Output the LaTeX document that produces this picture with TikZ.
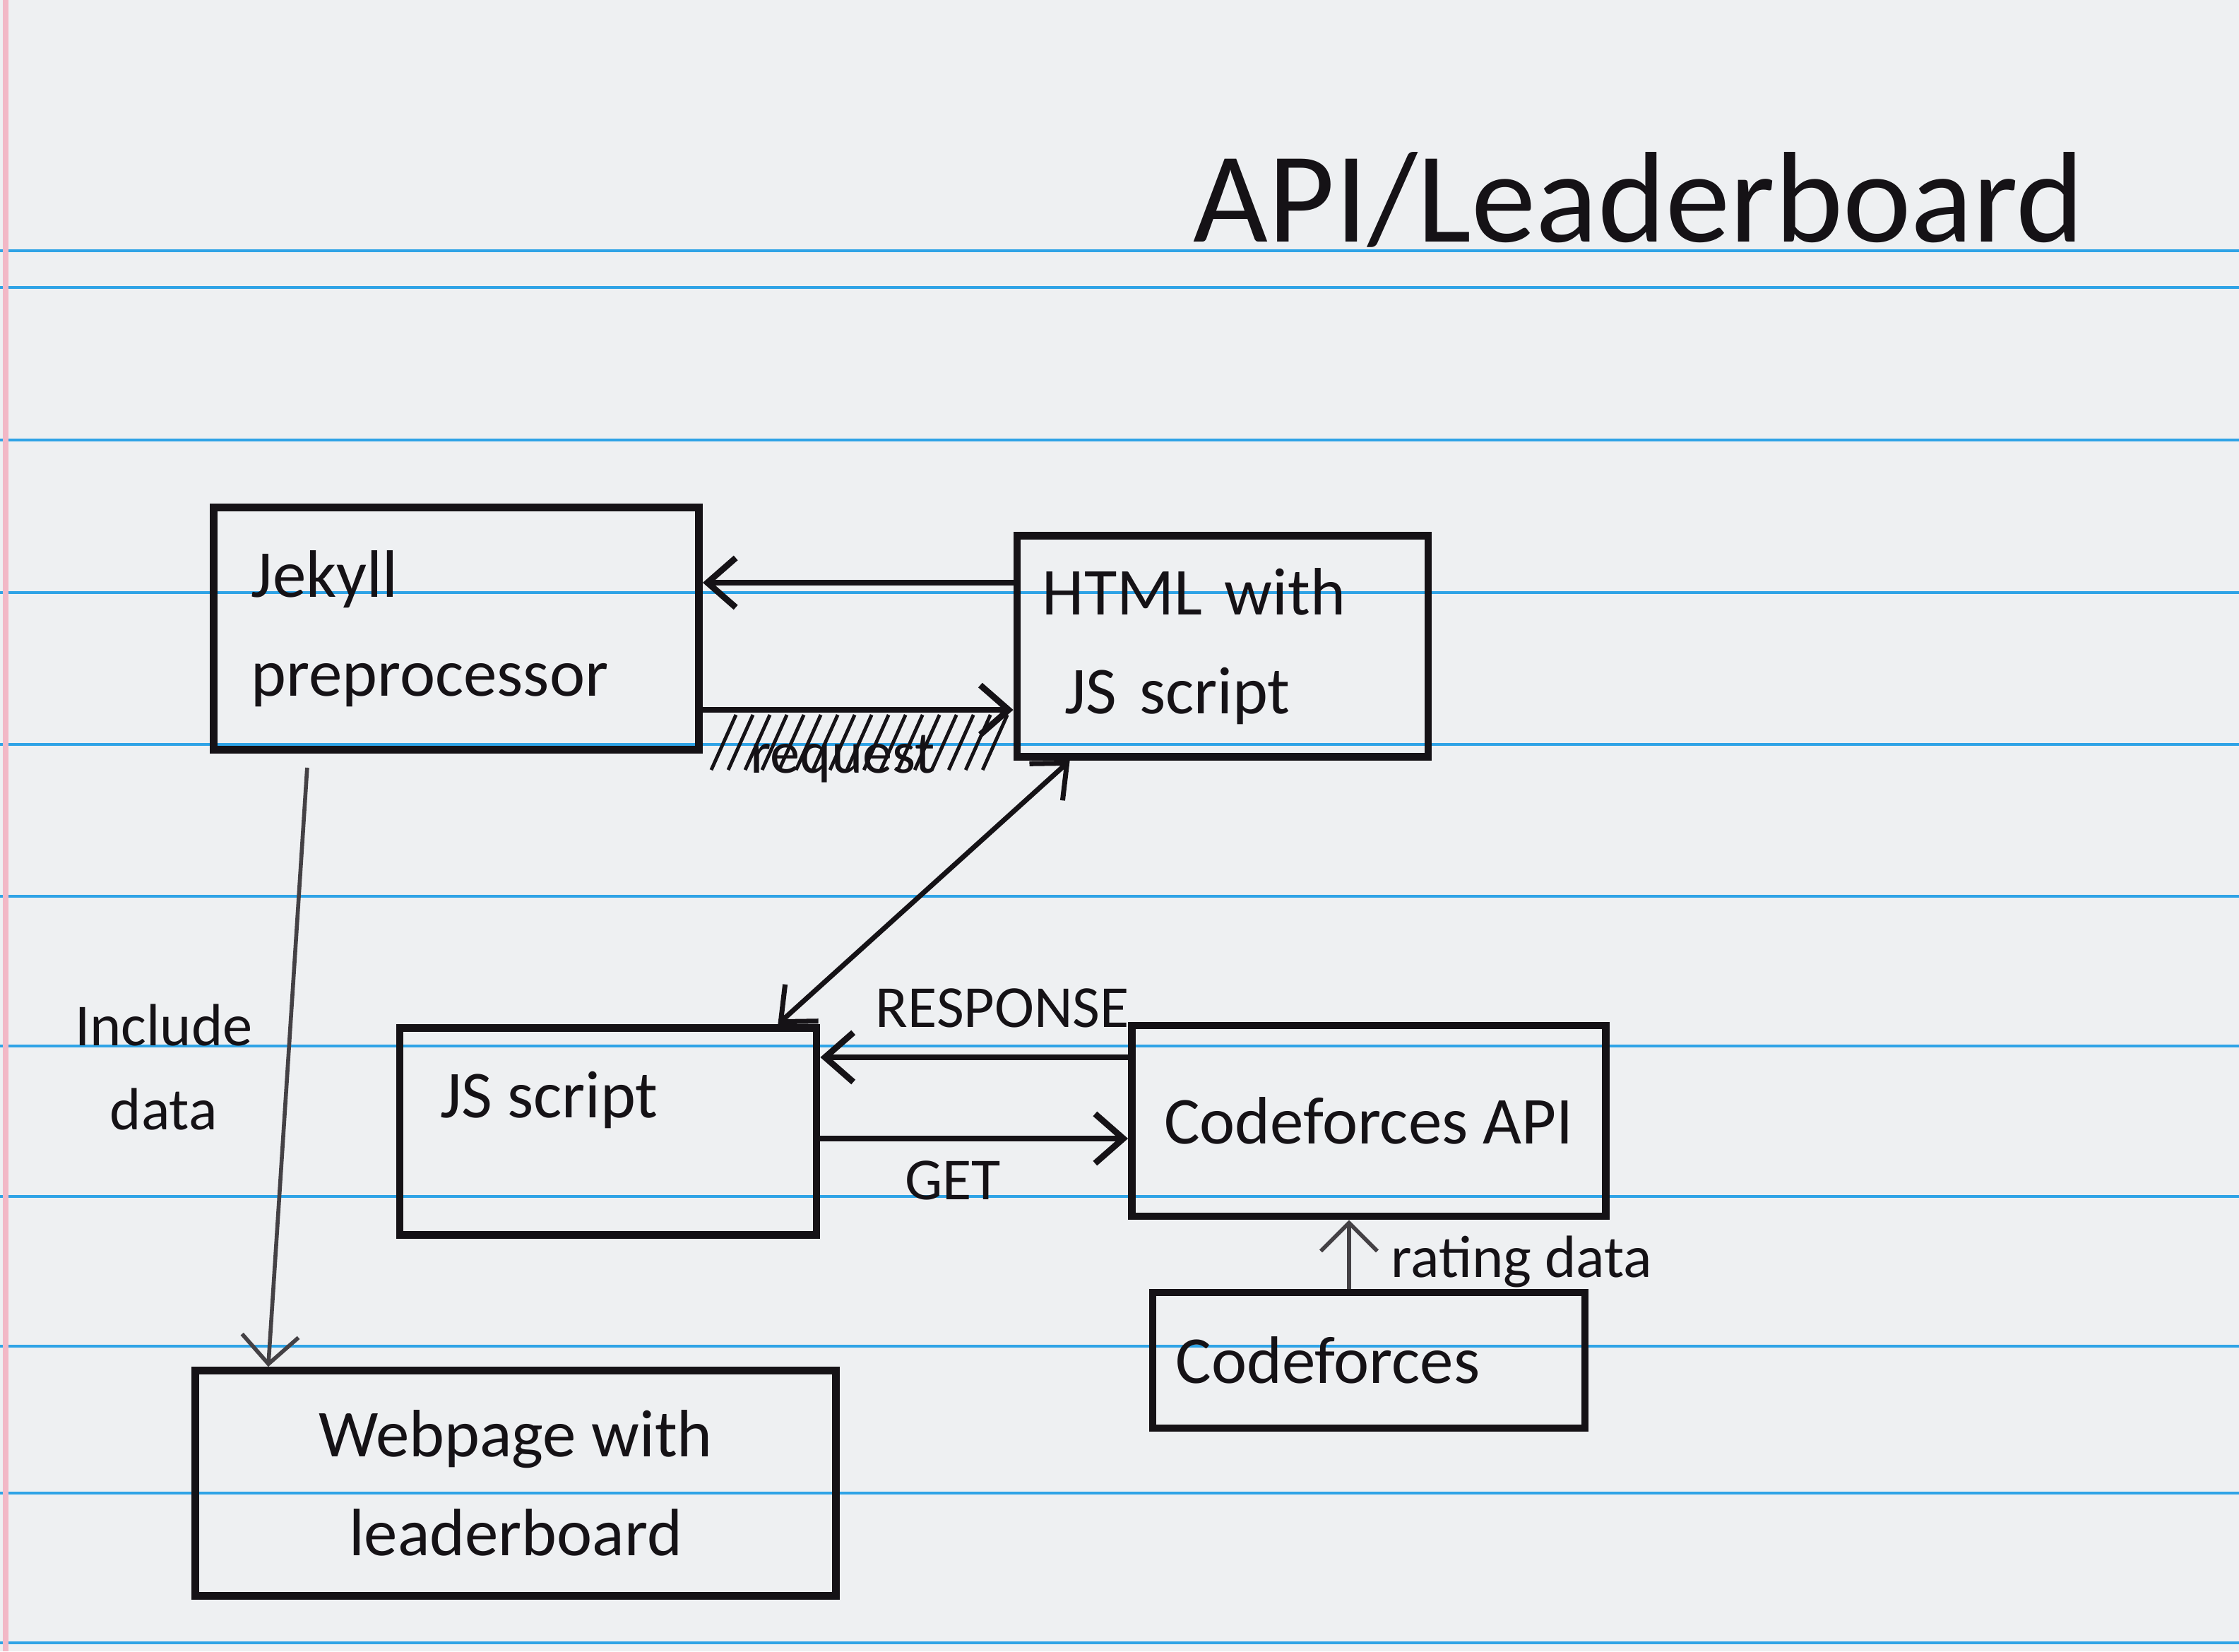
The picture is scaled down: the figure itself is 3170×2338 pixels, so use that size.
\documentclass[tikz,border=0pt]{standalone}
\usepackage{fontspec}
\setmainfont{Carlito}
\usetikzlibrary{arrows.meta,calc}

\definecolor{paper}{HTML}{EEF0F2}
\definecolor{ruleblue}{HTML}{2FA3E6}
\definecolor{marginpink}{HTML}{F2B8C6}
\definecolor{ink}{HTML}{151216}

\newcommand\boxfont{\fontsize{27}{40}\selectfont}
\newcommand\lblfont{\fontsize{24}{34}\selectfont}
\newcommand\titlefont{\fontsize{52}{60}\selectfont}

\tikzset{
  block/.style={draw=ink, line width=3pt, inner sep=0pt, font=\boxfont, text=ink},
  lbl/.style={font=\lblfont, text=ink, inner sep=2pt},
  arr/.style={draw=ink, line width=2.5pt, -{Straight Barb[length=4mm,width=7mm]}},
  dblarr/.style={draw=ink, line width=2pt, {Straight Barb[length=4mm,width=7mm]}-{Straight Barb[length=4mm,width=7mm]}},
  thinarr/.style={draw=ink!80, line width=1.6pt, -{Straight Barb[length=4mm,width=8mm]}},
  hatch/.style={draw=ink, line width=1.4pt},
  ruled/.style={draw=ruleblue, line width=1.2pt}
}

\begin{document}
\begin{tikzpicture}[x=0.01cm, y=-0.01cm]

% paper
\useasboundingbox (0,0) rectangle (3170,2338);
\fill[paper] (0,0) rectangle (3170,2338);
\foreach \yy in {355,407,623,839,1054,1269,1481,1694,1906,2114,2326}
  \draw[ruled] (0,\yy) -- (3170,\yy);
\draw[marginpink, line width=2pt] (8,0) -- (8,2338);

% title
\node[font=\titlefont, text=ink] (title) at (2320,283) {API/Leaderboard};

% boxes
\node[block, minimum width=6.87cm, minimum height=3.43cm, text width=5.8cm, align=left]
  (jekyll) at (646,890) {Jekyll\\preprocessor};
\node[block, minimum width=5.82cm, minimum height=3.13cm, text width=5.1cm, align=left]
  (html) at (1731,915) {HTML with\\\ JS script};
\node[block, minimum width=5.9cm, minimum height=2.93cm,
  label={[font=\boxfont, text=ink, anchor=north west, xshift=0.5cm, yshift=-0.55cm]north west:JS script}]
  (js) at (861,1602) {};
\node[block, minimum width=6.71cm, minimum height=2.7cm, align=center]
  (cfapi) at (1938,1587) {Codeforces API};
\node[block, minimum width=6.12cm, minimum height=1.92cm, text width=5.46cm, align=left]
  (cf) at (1938,1926) {Codeforces};
\node[block, minimum width=9.06cm, minimum height=3.19cm, align=center]
  (web) at (730,2100) {Webpage with\\leaderboard};

% html <-> jekyll
\coordinate (hj) at ([yshift=0.9cm]html.west);
\draw[arr] (hj) -- (hj -| jekyll.east);
\coordinate (rq) at ([yshift=-1.15cm]jekyll.east);
\draw[arr] (rq) -- (rq -| html.west);
\node[lbl] (req) at (1193,1075) {request};
\foreach \i in {0,...,16}
  \draw[hatch] ($(rq)+(\i*0.24cm+0.12cm,-0.85cm)$) -- ++(0.35cm,0.78cm);

% html <-> js script
\draw[dblarr] ([xshift=0.8cm]html.south west) -- ([xshift=-0.6cm]js.north east);

% js script <-> codeforces api
\coordinate (rs) at ([yshift=0.9cm]cfapi.west);
\draw[arr] (rs) -- (rs -| js.east) node[lbl, midway, above=3mm, xshift=0.4cm] {RESPONSE};
\coordinate (gt) at ([yshift=-0.1cm]js.east);
\draw[arr] (gt) -- (gt -| cfapi.west) node[lbl, midway, below=2mm, xshift=-0.3cm] {GET};

% codeforces -> api
\draw[thinarr] ([xshift=-0.28cm]cf.north) -- ([xshift=-0.28cm]cfapi.south)
  node[lbl, midway, right=5mm, yshift=-0.1cm] {rating data};

% jekyll -> webpage
\draw[thinarr] ([xshift=-2.11cm, yshift=-0.2cm]jekyll.south) -- ([xshift=-3.5cm]web.north)
  node[lbl, pos=0.5, left=0.4cm, align=center] {Include\\data};

\end{tikzpicture}
\end{document}
